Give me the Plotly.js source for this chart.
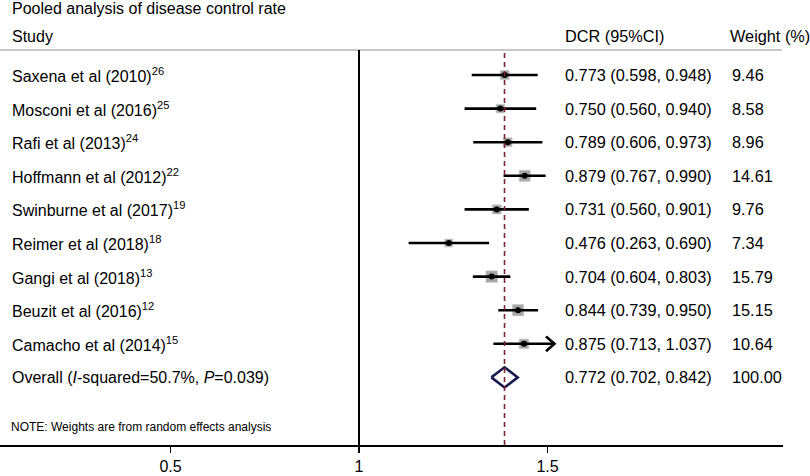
<!DOCTYPE html>
<html>
<head>
<meta charset="utf-8">
<script src="https://cdn.plot.ly/plotly-3.0.1.min.js"></script>
<style>html,body{margin:0;padding:0;background:#fff;}#chart{width:810px;height:476px;}</style>
</head>
<body>
<div id="chart"></div>
<script>
// ---- data ----
const studies = ['Saxena et al (2010)', 'Mosconi et al (2016)', 'Rafi et al (2013)', 'Hoffmann et al (2012)',
  'Swinburne et al (2017)', 'Reimer et al (2018)', 'Gangi et al (2018)', 'Beuzit et al (2016)', 'Camacho et al (2014)'];
const refs = ['26', '25', '24', '22', '19', '18', '13', '12', '15'];
const dcr = [0.773, 0.750, 0.789, 0.879, 0.731, 0.476, 0.704, 0.844, 0.875];
const ciLow = [0.598, 0.560, 0.606, 0.767, 0.560, 0.263, 0.604, 0.739, 0.713];
const ciHigh = [0.948, 0.940, 0.973, 0.990, 0.901, 0.690, 0.803, 0.950, 1.037];
const weights = [9.46, 8.58, 8.96, 14.61, 9.76, 7.34, 15.79, 15.15, 10.64];
const overallLabel = 'Overall (<i>I</i>-squared=50.7%, <i>P</i>=0.039)';
const overallEst = 0.772, overallLow = 0.702, overallHigh = 0.842, overallWeight = '100.00';
const tickVals = [-1, 0, 1];
const tickText = ['0.5', '1', '1.5'];
const titleText = 'Pooled analysis of disease control rate';
const noteText = 'NOTE: Weights are from random effects analysis';

// ---- layout helpers ----
const W = 810, H = 476, plotW = 783, plotH = 445;
const x0px = 359, pxPerUnit = 188.5;           // pixel of value 0, pixels per unit
const row0 = 75, rowH = 33.6;                   // pixel y of first row, row spacing
const yv = py => (py - row0) / rowH;
const px2paper = px => px / plotW;
const fnt = 'Liberation Sans, Arial, sans-serif';
const n = studies.length;
const rows = studies.map((s, i) => i);
const overallRow = n;

const traces = [];
// squares (weights)
traces.push({
  type: 'scatter', mode: 'markers', x: dcr, y: rows,
  marker: {symbol: 'square', color: '#808080', size: weights.map(w => 2.85 * Math.sqrt(w)),
           line: {color: '#a8a8a8', width: 0.8}},
  hoverinfo: 'skip', showlegend: false
});
// CI lines
const lx = [], ly = [];
for (let i = 0; i < n; i++) { lx.push(ciLow[i], ciHigh[i], null); ly.push(i, i, null); }
traces.push({type: 'scatter', mode: 'lines', x: lx, y: ly, line: {color: '#000', width: 2.6},
  hoverinfo: 'skip', showlegend: false});
// arrow head for CIs reaching beyond 1
const ax = [], ay = [];
const axisMax = 1.0;
for (let i = 0; i < n; i++) {
  if (ciHigh[i] > axisMax) {
    ax.push(ciHigh[i] - 0.045, ciHigh[i], ciHigh[i] - 0.045, null);
    ay.push(i - 0.22, i, i + 0.22, null);
  }
}
traces.push({type: 'scatter', mode: 'lines', x: ax, y: ay, line: {color: '#000', width: 2.6},
  hoverinfo: 'skip', showlegend: false});
// point estimates
traces.push({type: 'scatter', mode: 'markers', x: dcr, y: rows,
  marker: {symbol: 'circle', color: '#000', size: 6}, hoverinfo: 'skip', showlegend: false});
// overall diamond
const dh = 0.3;
traces.push({type: 'scatter', mode: 'lines',
  x: [overallLow, overallEst, overallHigh, overallEst, overallLow],
  y: [overallRow, overallRow - dh, overallRow, overallRow + dh, overallRow],
  line: {color: '#1b1b4d', width: 2.6}, hoverinfo: 'skip', showlegend: false});

const ann = [];
const fs = 16;
const fsNum = 16.3;
ann.push({text: titleText, x: px2paper(10), y: yv(8), xref: 'paper', yref: 'y', xanchor: 'left', yanchor: 'middle',
  showarrow: false, font: {family: fnt, size: fs, color: '#000'}});
ann.push({text: 'Study', x: px2paper(10), y: yv(36), xref: 'paper', yref: 'y', xanchor: 'left', yanchor: 'middle',
  showarrow: false, font: {family: fnt, size: fs, color: '#000'}});
ann.push({text: 'DCR (95%CI)', x: px2paper(563), y: yv(36), xref: 'paper', yref: 'y', xanchor: 'left', yanchor: 'middle',
  showarrow: false, font: {family: fnt, size: fsNum, color: '#000'}});
ann.push({text: 'Weight (%)', x: px2paper(728), y: yv(36), xref: 'paper', yref: 'y', xanchor: 'left', yanchor: 'middle',
  showarrow: false, font: {family: fnt, size: fsNum, color: '#000'}});
const f3 = v => v.toFixed(3);
for (let i = 0; i < n; i++) {
  ann.push({text: studies[i] + '<sup>' + refs[i] + '</sup>', x: px2paper(10), y: i, xref: 'paper', yref: 'y',
    xanchor: 'left', yanchor: 'middle', showarrow: false, font: {family: fnt, size: fs, color: '#000'}});
  ann.push({text: f3(dcr[i]) + ' (' + f3(ciLow[i]) + ', ' + f3(ciHigh[i]) + ')', x: px2paper(563), y: i,
    xref: 'paper', yref: 'y', xanchor: 'left', yanchor: 'middle', showarrow: false,
    font: {family: fnt, size: fsNum, color: '#000'}});
  ann.push({text: weights[i].toFixed(2), x: px2paper(730), y: i, xref: 'paper', yref: 'y',
    xanchor: 'left', yanchor: 'middle', showarrow: false, font: {family: fnt, size: fsNum, color: '#000'}});
}
ann.push({text: overallLabel, x: px2paper(10), y: overallRow, xref: 'paper', yref: 'y', xanchor: 'left', yanchor: 'middle',
  showarrow: false, font: {family: fnt, size: fs, color: '#000'}});
ann.push({text: f3(overallEst) + ' (' + f3(overallLow) + ', ' + f3(overallHigh) + ')', x: px2paper(563), y: overallRow,
  xref: 'paper', yref: 'y', xanchor: 'left', yanchor: 'middle', showarrow: false, font: {family: fnt, size: fsNum, color: '#000'}});
ann.push({text: overallWeight, x: px2paper(730), y: overallRow, xref: 'paper', yref: 'y', xanchor: 'left', yanchor: 'middle',
  showarrow: false, font: {family: fnt, size: fsNum, color: '#000'}});
ann.push({text: noteText, x: px2paper(9), y: yv(427), xref: 'paper', yref: 'y', xanchor: 'left', yanchor: 'middle',
  showarrow: false, font: {family: fnt, size: 12, color: '#000'}});

const topPaper = 1 - 50 / plotH;
const shapes = [
  {type: 'line', xref: 'paper', yref: 'paper', x0: 0, x1: 782 / plotW, y0: topPaper, y1: topPaper,
   line: {color: '#b5b5b5', width: 1.5}},
  {type: 'line', xref: 'x', yref: 'paper', x0: tickVals[1], x1: tickVals[1], y0: 0, y1: topPaper,
   line: {color: '#000', width: 2}},
  {type: 'line', xref: 'x', yref: 'paper', x0: overallEst, x1: overallEst, y0: 0, y1: topPaper,
   line: {color: '#7e2236', width: 1.6, dash: '5px,4px'}}
];

const layout = {
  width: W, height: H,
  margin: {l: 0, r: W - plotW, t: 0, b: H - plotH, pad: 0},
  paper_bgcolor: '#fff', plot_bgcolor: '#fff',
  showlegend: false,
  xaxis: {range: [-x0px / pxPerUnit, (plotW - x0px) / pxPerUnit], showgrid: false, zeroline: false,
    showline: true, linecolor: '#000', linewidth: 1.5, ticks: 'outside', ticklen: 6, tickwidth: 1.5, tickcolor: '#000',
    tickvals: tickVals, ticktext: tickText, tickfont: {family: fnt, size: fs, color: '#000'}, fixedrange: true},
  yaxis: {range: [yv(plotH), yv(0)], visible: false, showgrid: false, zeroline: false, fixedrange: true},
  annotations: ann,
  shapes: shapes
};
Plotly.newPlot('chart', traces, layout, {staticPlot: true, displayModeBar: false});
</script>
</body>
</html>
